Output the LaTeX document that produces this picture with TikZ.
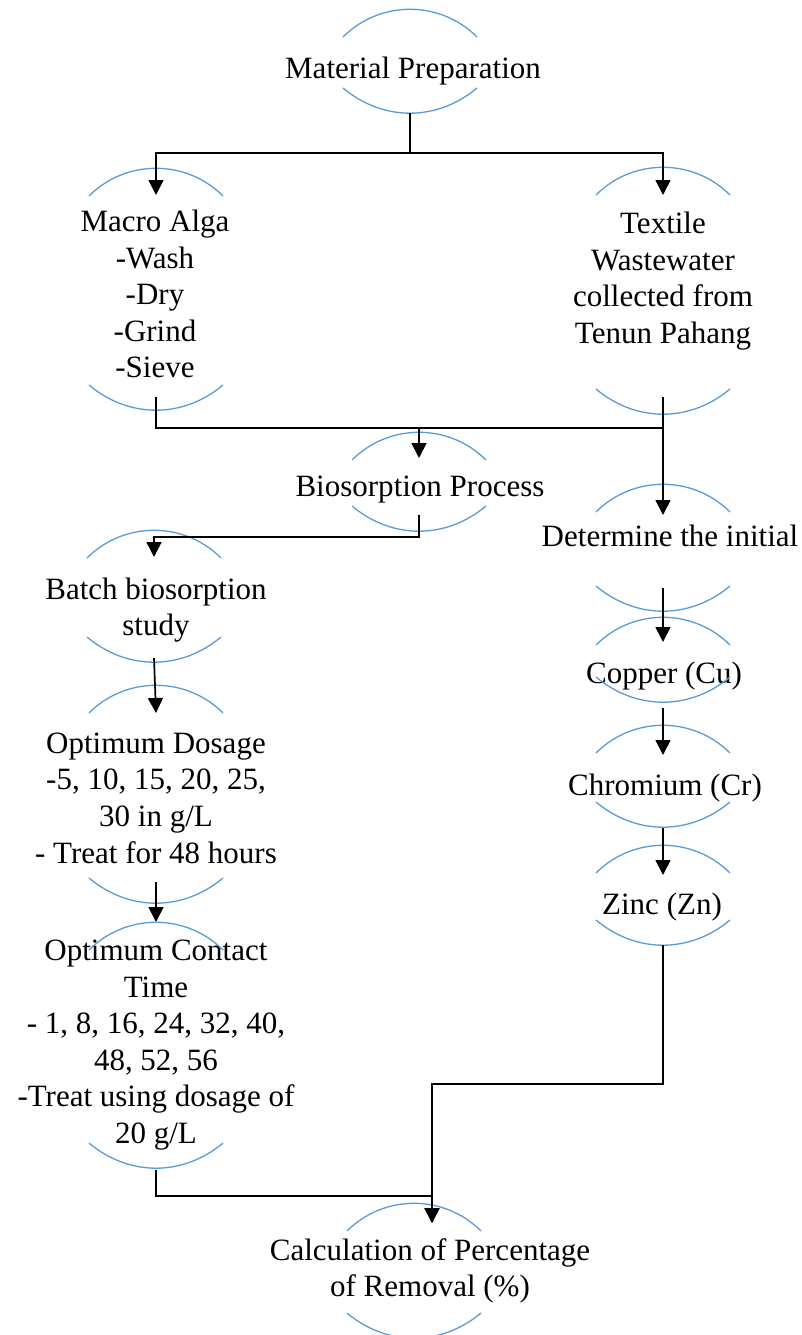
\documentclass[tikz,border=0pt]{standalone}
\usepackage{fontspec}
\setmainfont{Liberation Serif}
\usetikzlibrary{arrows.meta}

\definecolor{rimblue}{RGB}{91,155,213}

\begin{document}
\begin{tikzpicture}[x=1pt,y=-1pt,
  stage/.style={align=center, inner sep=0pt, font=\fontsize{31}{36.6}\selectfont},
  rimline/.style={draw=rimblue, line width=1.3pt},
  flow/.style={draw=black, line width=1.7pt},
  arrow/.style={flow, -{Triangle[length=15pt,width=15pt]}}]
\useasboundingbox (0,0) rectangle (801,1335);

% steps
\node [stage] (mat) at (413,71) {Material Preparation};
\node [stage] (macro) at (155,294) {Macro Alga\\-Wash\\-Dry\\-Grind\\-Sieve};
\node [stage] (textile) at (663,281) {Textile\\Wastewater\\collected from\\Tenun Pahang};
\node [stage] (bio) at (420,490) {Biosorption Process};
\node [stage] (det) at (670,536) {Determine the initial};
\node [stage] (copper) at (664,676) {Copper (Cu)};
\node [stage] (chromium) at (665,788) {Chromium (Cr)};
\node [stage] (zinc) at (662,907) {Zinc (Zn)};
\node [stage] (batch) at (156,610) {Batch biosorption\\study};
\node [stage] (dosage) at (156,798) {Optimum Dosage\\-5, 10, 15, 20, 25,\\30 in g/L\\- Treat for 48 hours};
\node [stage] (contact) at (156,1045) {Optimum Contact\\Time\\- 1, 8, 16, 24, 32, 40,\\48, 52, 56\\-Treat using dosage of\\20 g/L};
\node [stage] (calc) at (430,1271) {Calculation of Percentage\\of Removal (\%)};

% blue rims above and below each step
\foreach \nm/\cx/\ty/\by/\iy/\oy in {mat/410/37/88/37/113,
    macro/156/196/385/195/397, textile/663/195/389/195/397,
    bio/419/460/506/458/515, det/663/512/586/515/588,
    copper/663/645/677/642/708, chromium/663/753/802/755/828,
    zinc/663/873/920/875/945, batch/154/558/637/557/658,
    dosage/156/713/878/713/882, contact/156/950/1143/922/1170,
    calc/414/1231/1313/1223/1340}{
  \draw [rimline] (\cx-67,\ty) to[bend left=45] (\cx+67,\ty);
  \draw [rimline] (\cx-67,\by) to[bend right=40] (\cx+67,\by);
  \coordinate (\nm-in) at (\cx,\iy);
  \coordinate (\nm-out) at (\cx,\oy);
}

% connectors
\draw [arrow] (mat-out) -- ++(0,40) -| (macro-in);
\draw [arrow] (mat-out) -- ++(0,40) -| (textile-in);
\draw [flow] (macro-out) -- ++(0,31) -| (textile-out);
\draw [arrow] (macro-out) -- ++(0,31) -| (bio-in);
\draw [arrow] (textile-out) -- (det-in);
\draw [arrow] (bio-out) -- ++(0,22) -| (batch-in);
\draw [arrow] (batch-out) -- (dosage-in);
\draw [arrow] (dosage-out) -- (contact-in);
\draw [arrow] (det-out) -- (copper-in);
\draw [arrow] (copper-out) -- (chromium-in);
\draw [arrow] (chromium-out) -- (zinc-in);
\draw [arrow] (contact-out) -- ++(0,26) -| ([xshift=18pt]calc-in);
\draw [arrow] (zinc-out) -- ++(0,139) -| ([xshift=18pt]calc-in);
\end{tikzpicture}
\end{document}
